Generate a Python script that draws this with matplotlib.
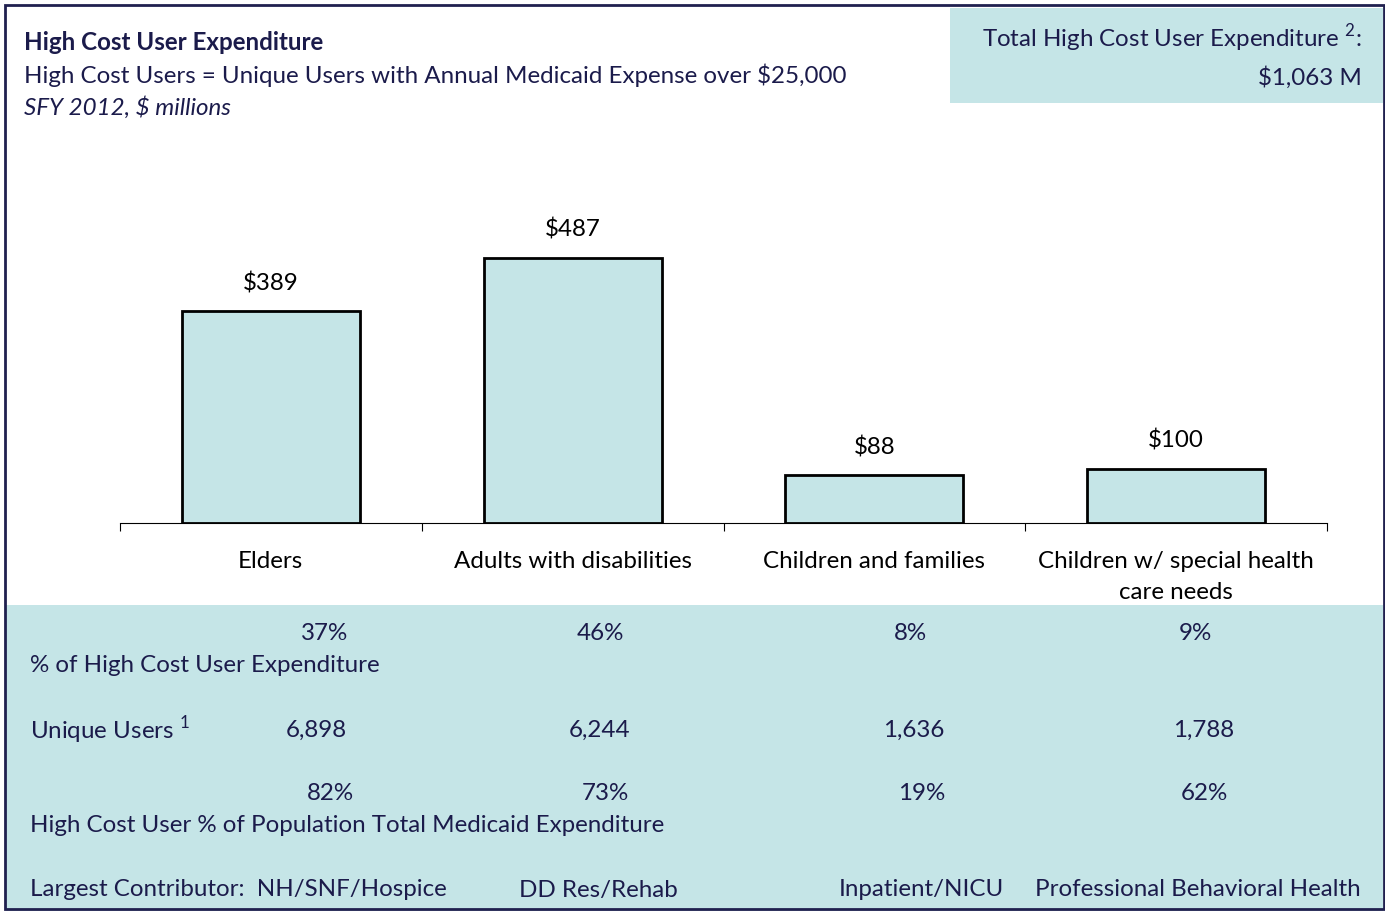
import matplotlib
matplotlib.use("Agg")
import matplotlib.pyplot as plt
from matplotlib.patches import Rectangle

plt.rcParams['font.family'] = ['Lato', 'DejaVu Sans']
plt.rcParams['mathtext.fontset'] = 'custom'
plt.rcParams['mathtext.rm'] = 'Lato'

# data
categories = ["Elders", "Adults with disabilities", "Children and families",
              "Children w/ special health\ncare needs"]
expenditure = [389, 487, 88, 100]
pct_expenditure = ["37%", "46%", "8%", "9%"]
unique_users = ["6,898", "6,244", "1,636", "1,788"]
pct_population = ["82%", "73%", "19%", "62%"]
largest_contributor = ["NH/SNF/Hospice", "DD Res/Rehab", "Inpatient/NICU",
                       "Professional Behavioral Health"]
total_label = "$1,063 M"

W, H = 1385, 911
NAVY = "#1b1b4b"
TEAL = "#c5e5e7"
FS = 17.4


def px(x):
    return x / W


def py(y):
    return 1 - y / H


fig = plt.figure(figsize=(W / 100, H / 100), dpi=100)

# background panels
fig.patches.append(Rectangle((px(6), 0), px(1377), py(605), transform=fig.transFigure,
                             facecolor=TEAL, edgecolor="none", zorder=0))
fig.patches.append(Rectangle((px(950), py(103)), px(433), (103 - 8) / H, transform=fig.transFigure,
                             facecolor=TEAL, edgecolor="none", zorder=0))
fig.patches.append(Rectangle((px(5), py(909)), px(1379), 904 / H, transform=fig.transFigure,
                             facecolor="none", edgecolor="#20204f", linewidth=2, zorder=5))

# header
fig.text(px(24), py(43), "High Cost User Expenditure", fontsize=FS, fontweight="bold",
         color=NAVY, va="center")
fig.text(px(24), py(75), "High Cost Users = Unique Users with Annual Medicaid Expense over \\$25,000",
         fontsize=FS, color=NAVY, va="center")
fig.text(px(24), py(107), "SFY 2012, \\$ millions", fontsize=FS, style="italic",
         color=NAVY, va="center")
fig.text(px(1362), py(38), "Total High Cost User Expenditure ${}^{2}$:", fontsize=FS,
         color=NAVY, va="center", ha="right")
fig.text(px(1362), py(78), total_label.replace("$", "\\$"), fontsize=FS, color=NAVY,
         va="center", ha="right")

# bar chart
ax = fig.add_axes([px(120), py(523), px(1207), 600 * 0.545 / H])
x = list(range(len(categories)))
ax.bar(x, expenditure, width=0.59, color=TEAL, edgecolor="black", linewidth=2, zorder=3)
for xi, v in zip(x, expenditure):
    ax.annotate(f"\\${v}", (xi, v), xytext=(0, 20), textcoords="offset points",
                ha="center", va="center", fontsize=FS, color="black")
ax.set_xlim(-0.5, len(categories) - 0.5)
ax.set_ylim(0, 600)
for s in ["top", "right", "left"]:
    ax.spines[s].set_visible(False)
ax.spines["bottom"].set_linewidth(0.8)
ax.set_yticks([])
ax.set_xticks([i - 0.5 for i in range(len(categories) + 1)])
ax.set_xticklabels([])
ax.tick_params(axis="x", which="major", direction="out", length=6, width=0.8)
ax.set_xticks(x, minor=True)
ax.set_xticklabels(categories, minor=True, fontsize=FS, va="top", linespacing=1.6)
ax.tick_params(axis="x", which="minor", length=0, pad=20)
ax.set_facecolor("none")

# table under the chart
col1 = [325, 600, 910, 1195]
for cx, t in zip(col1, pct_expenditure):
    fig.text(px(cx), py(634), t, fontsize=FS, color=NAVY, ha="center", va="center")
fig.text(px(30), py(666), "% of High Cost User Expenditure", fontsize=FS, color=NAVY, va="center")

col2 = [316, 600, 914, 1204]
fig.text(px(30), py(730), "Unique Users ${}^{1}$", fontsize=FS, color=NAVY, va="center")
for cx, t in zip(col2, unique_users):
    fig.text(px(cx), py(730), t, fontsize=FS, color=NAVY, ha="center", va="center")

col3 = [330, 605, 922, 1204]
for cx, t in zip(col3, pct_population):
    fig.text(px(cx), py(794), t, fontsize=FS, color=NAVY, ha="center", va="center")
fig.text(px(30), py(826), "High Cost User % of Population Total Medicaid Expenditure",
         fontsize=FS, color=NAVY, va="center")

fig.text(px(30), py(890), "Largest Contributor:  " + largest_contributor[0], fontsize=FS,
         color=NAVY, va="center")
col4 = [598, 921, 1198]
for cx, t in zip(col4, largest_contributor[1:]):
    fig.text(px(cx), py(890), t, fontsize=FS, color=NAVY, ha="center", va="center")

fig.savefig("out.png", dpi=100)
